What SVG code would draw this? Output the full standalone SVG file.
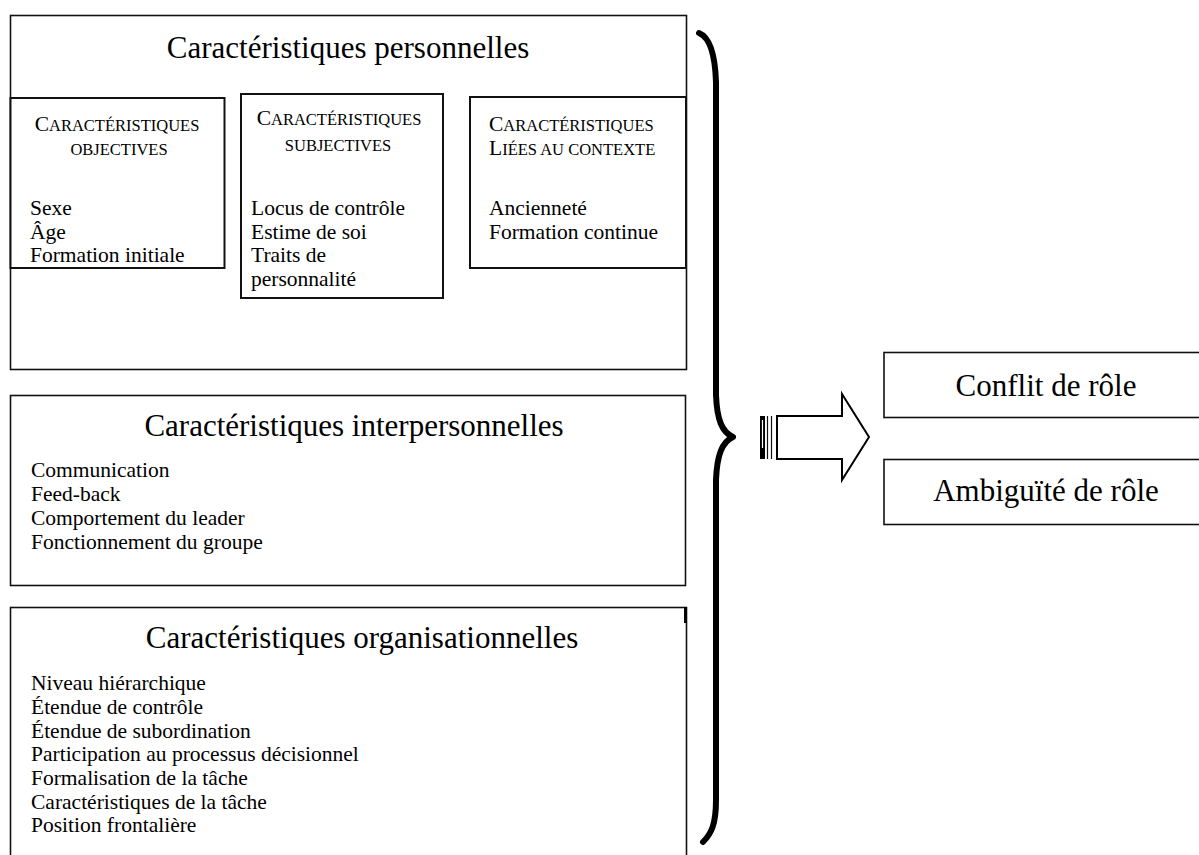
<svg xmlns="http://www.w3.org/2000/svg" width="1199" height="855" viewBox="0 0 1199 855">
  <style>
    .box { fill: #fff; stroke: #111; stroke-width: 1.6; }
    .sub { fill: #fff; stroke: #111; stroke-width: 2; }
    .title { font-family: "Liberation Serif", "Times New Roman", serif; font-size: 31px; fill: #000; text-anchor: middle; }
    .head { font-family: "Liberation Serif", "Times New Roman", serif; font-size: 16.5px; fill: #000; }
    .cap { font-size: 21.5px; }
    .item { font-family: "Liberation Serif", "Times New Roman", serif; font-size: 21.5px; fill: #000; }
    .mid { text-anchor: middle; }
  </style>
  <rect width="1199" height="855" fill="#fff"/>

  <!-- Personal characteristics -->
  <g id="personnelles">
    <rect class="box" x="10.5" y="15.5" width="676" height="354"/>
    <text class="title" x="348" y="58">Caractéristiques personnelles</text>
  </g>

  <g id="objectives">
    <rect class="sub" x="10.5" y="98" width="214" height="170"/>
    <text class="head mid" x="117" y="131"><tspan class="cap">C</tspan>ARACTÉRISTIQUES</text>
    <text class="head mid" x="119" y="155">OBJECTIVES</text>
    <text class="item" x="30" y="215">Sexe</text>
    <text class="item" x="30" y="239">Âge</text>
    <text class="item" x="30" y="262">Formation initiale</text>
  </g>

  <g id="subjectives">
    <rect class="sub" x="241" y="94" width="202" height="204"/>
    <text class="head mid" x="339" y="125"><tspan class="cap">C</tspan>ARACTÉRISTIQUES</text>
    <text class="head mid" x="338" y="151">SUBJECTIVES</text>
    <text class="item" x="251" y="215">Locus de contrôle</text>
    <text class="item" x="251" y="239">Estime de soi</text>
    <text class="item" x="251" y="262">Traits de</text>
    <text class="item" x="251" y="286">personnalité</text>
  </g>

  <g id="contexte">
    <rect class="sub" x="470" y="97" width="216" height="171"/>
    <text class="head" x="489" y="131"><tspan class="cap">C</tspan>ARACTÉRISTIQUES</text>
    <text class="head" x="489" y="155"><tspan class="cap">L</tspan>IÉES AU CONTEXTE</text>
    <text class="item" x="489" y="215">Ancienneté</text>
    <text class="item" x="489" y="239">Formation continue</text>
  </g>

  <!-- Interpersonal characteristics -->
  <g id="interpersonnelles">
    <rect class="box" x="10.5" y="395.5" width="675" height="190"/>
    <text class="title" x="354" y="436">Caractéristiques interpersonnelles</text>
    <text class="item" x="31" y="477">Communication</text>
    <text class="item" x="31" y="501">Feed-back</text>
    <text class="item" x="31" y="525">Comportement du leader</text>
    <text class="item" x="31" y="549">Fonctionnement du groupe</text>
  </g>

  <!-- Organisational characteristics -->
  <g id="organisationnelles">
    <rect class="box" x="10.5" y="607.5" width="676" height="260"/>
    <line x1="685.5" y1="607" x2="685.5" y2="623" stroke="#000" stroke-width="3"/>
    <text class="title" x="362" y="648">Caractéristiques organisationnelles</text>
    <text class="item" x="31" y="690">Niveau hiérarchique</text>
    <text class="item" x="31" y="714">Étendue de contrôle</text>
    <text class="item" x="31" y="738">Étendue de subordination</text>
    <text class="item" x="31" y="761">Participation au processus décisionnel</text>
    <text class="item" x="31" y="785">Formalisation de la tâche</text>
    <text class="item" x="31" y="809">Caractéristiques de la tâche</text>
    <text class="item" x="31" y="832">Position frontalière</text>
  </g>

  <!-- Outcomes -->
  <g id="conflit">
    <rect class="box" x="884" y="352.5" width="320" height="65"/>
    <text class="title" x="1046" y="396">Conflit de rôle</text>
  </g>
  <g id="ambiguite">
    <rect class="box" x="884" y="459.5" width="320" height="65"/>
    <text class="title" x="1046" y="501">Ambiguïté de rôle</text>
  </g>

  <!-- Brace grouping the three blocks and the striped arrow -->
  <g id="connecteurs">
    <path d="M699,33 C709,37 715,52 716,82 L716,395 C717,420 722,432 733,437 C722,442 717,455 716,480 L716,800 C716,825 711,834 703,842"
          fill="none" stroke="#000" stroke-width="6" stroke-linecap="round" stroke-linejoin="round"/>
    <rect x="760" y="416" width="5" height="43" fill="#000"/>
    <line x1="762.5" y1="420" x2="762.5" y2="448" stroke="#fff" stroke-width="1.2"/>
    <line x1="767.5" y1="416" x2="767.5" y2="459" stroke="#111" stroke-width="1.2"/>
    <line x1="771.5" y1="416" x2="771.5" y2="459" stroke="#111" stroke-width="1.2"/>
    <path d="M777,416 L842,416 L842,394 L869,437 L842,480 L842,459 L777,459 Z"
          fill="#fff" stroke="#000" stroke-width="2" stroke-linejoin="miter"/>
  </g>
</svg>
